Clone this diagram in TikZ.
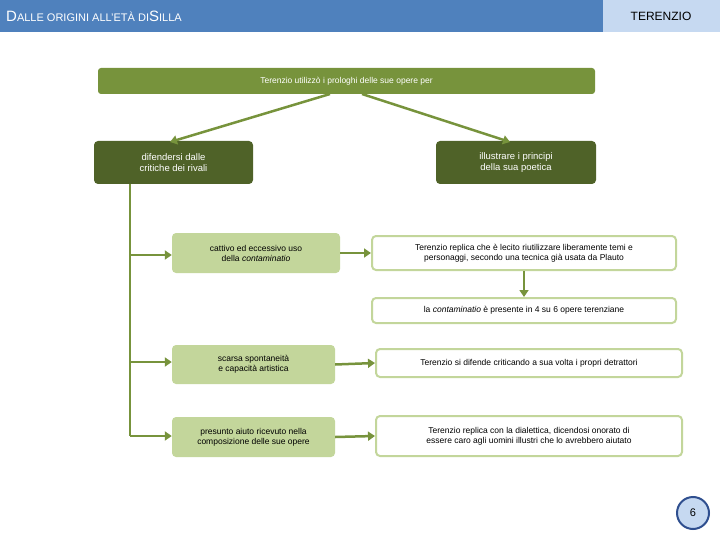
\documentclass[tikz,border=0pt]{standalone}
\usepackage{fontspec}
\setmainfont{Liberation Sans}
\usetikzlibrary{arrows.meta}
\definecolor{hdr}{HTML}{4F81BD}
\definecolor{hdrl}{HTML}{C6D9F1}
\definecolor{g1}{HTML}{77933C}
\definecolor{g2}{HTML}{4F6228}
\definecolor{g3}{HTML}{C3D69B}
\definecolor{cb}{HTML}{2F4F8F}
\begin{document}
\begin{tikzpicture}[x=1pt,y=-1pt,
 every node/.style={font=\fontsize{8.5}{10}\selectfont,align=center,inner sep=0pt},
 top/.style={fill=g1,rounded corners=3pt,text=white},
 dark/.style={fill=g2,rounded corners=4pt,text=white,font=\fontsize{9.5}{11}\selectfont},
 lite/.style={fill=g3,rounded corners=4pt},
 wbox/.style={draw=g3,line width=2pt,fill=white,rounded corners=4pt},
 arr/.style={draw=g1,line width=2.5pt,-{Triangle[length=7pt,width=9pt]}},
 ln/.style={draw=g1,line width=2.5pt}]
\useasboundingbox (0,0) rectangle (720,540);
\fill[hdr] (0,0) rectangle (603,32);
\fill[hdrl] (603,0) rectangle (720,32);
\node[anchor=west,text=white,font=\fontsize{11}{13}\selectfont] (title) at (6,16) {{\fontsize{15}{15}\selectfont D}ALLE ORIGINI ALL’ETÀ DI{\fontsize{15}{15}\selectfont S}ILLA};
\node[font=\fontsize{12}{14}\selectfont] (ter) at (661,16) {TERENZIO};
\node[top,minimum width=497pt,minimum height=26pt] (t) at (346.5,81) {Terenzio utilizzò i prologhi delle sue opere per};
\node[dark,minimum width=159pt,minimum height=43pt] (l) at (173.5,162.5) {difendersi dalle\\critiche dei rivali};
\node[dark,minimum width=160pt,minimum height=43pt] (r) at (516,162.5) {illustrare i principi\\della sua poetica};
\node[lite,minimum width=168pt,minimum height=40pt] (a) at (256,253) {cattivo ed eccessivo uso\\della \textit{contaminatio}};
\node[lite,minimum width=163pt,minimum height=39pt] (b) at (253.5,364.5) {scarsa spontaneità\\e capacità artistica};
\node[lite,minimum width=163pt,minimum height=40pt] (c) at (253.5,437) {presunto aiuto ricevuto nella\\composizione delle sue opere};
\node[wbox,minimum width=304pt,minimum height=34pt] (a1) at (524,253) {Terenzio replica che è lecito riutilizzare liberamente temi e\\personaggi, secondo una tecnica già usata da Plauto};
\node[wbox,minimum width=304pt,minimum height=25pt] (a2) at (524,310.5) {la \textit{contaminatio} è presente in 4 su 6 opere terenziane};
\node[wbox,minimum width=306pt,minimum height=28pt] (b1) at (529,363) {Terenzio si difende criticando a sua volta i propri detrattori};
\node[wbox,minimum width=306pt,minimum height=40pt] (c1) at (529,436) {Terenzio replica con la dialettica, dicendosi onorato di\\essere caro agli uomini illustri che lo avrebbero aiutato};
\coordinate (tl) at (330,94);
\coordinate (tr) at (362,94);
\draw[arr] (tl) -- (170,142);
\draw[arr] (tr) -- (510,142);
\coordinate (v0) at (130,184);
\coordinate (v3) at (130,436);
\draw[ln] (v0) -- (v3);
\draw[arr] (130,255) -- (a.west |- 0,255);
\draw[arr] (130,362) -- (b.west |- 0,362);
\draw[arr] (v3) -- (c.west |- v3);
\draw[arr] (a.east) -- (a1.west);
\draw[arr] (b.east) -- (b1.west);
\draw[arr] (c.east) -- (c1.west);
\draw[arr] (a1.south) -- (a2.north);
\node[circle,draw=cb,line width=2pt,fill=hdrl,minimum size=32pt,font=\fontsize{11}{13}\selectfont] (p) at (693,513) {6};
\end{tikzpicture}
\end{document}
